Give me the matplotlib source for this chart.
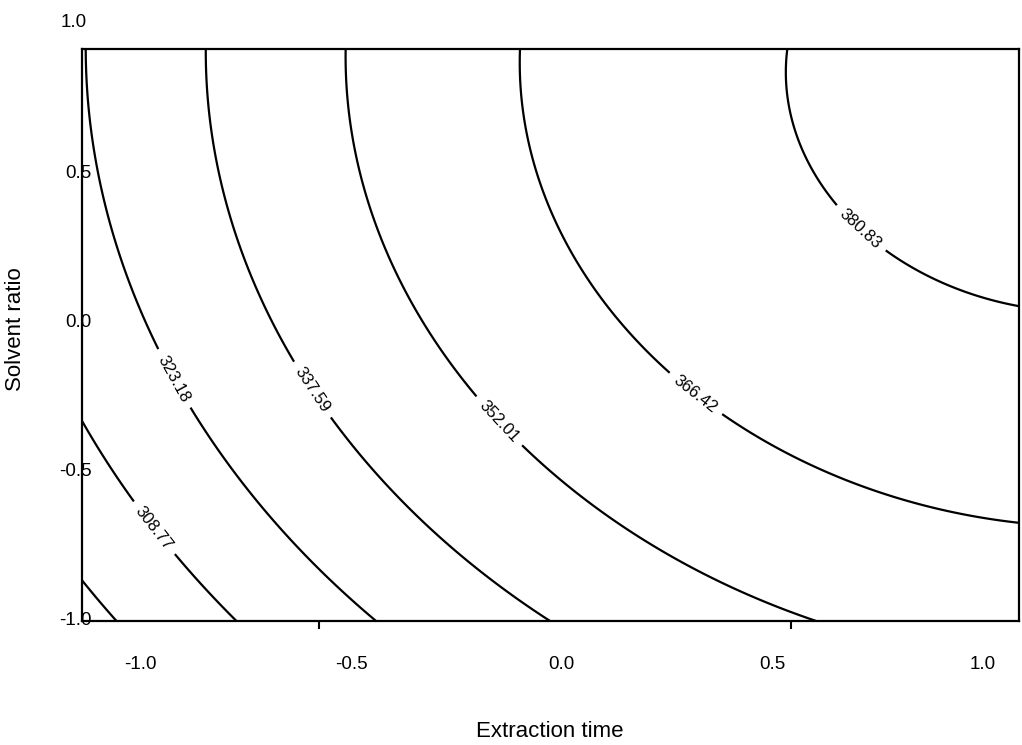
import matplotlib.pyplot as plt
import numpy as np

plt.rcParams['font.family'] = ['Liberation Sans', 'DejaVu Sans']

# Response surface (coded units): b0, bx, by, bxx, byy, bxy
coef = [362.760, 28.567, 15.226, -11.543, -8.861, -0.902]

unlabelled = [294.36]
labelled = [308.77, 323.18, 337.59, 352.01, 366.42, 380.83]

x_ticks = [-1.0, -0.5, 0.0, 0.5, 1.0]
y_ticks = [-1.0, -0.5, 0.0, 0.5]

xlim = (-1.139, 1.086)
ylim = (-1.008, 0.91)

fig = plt.figure(figsize=(10.22, 7.45), dpi=100)
ax = fig.add_axes([0.0802, 0.1664, 0.9169, 0.7678])

gx = np.linspace(xlim[0], xlim[1], 400)
gy = np.linspace(ylim[0], ylim[1], 400)
X, Y = np.meshgrid(gx, gy)
Z = (coef[0] + coef[1] * X + coef[2] * Y
     + coef[3] * X ** 2 + coef[4] * Y ** 2 + coef[5] * X * Y)

ax.contour(X, Y, Z, levels=unlabelled, colors='k', linewidths=1.6)
cs = ax.contour(X, Y, Z, levels=labelled, colors='k', linewidths=1.6)

# where the labels sit along each line
label_pos = [(-0.965, -0.693), (-0.918, -0.193), (-0.593, -0.233),
             (-0.146, -0.334), (0.316, -0.250), (0.713, 0.313)]
ax.clabel(cs, inline=True, fmt='%.2f', fontsize=12,
          manual=label_pos, inline_spacing=8)

ax.set_xlim(xlim)
ax.set_ylim(ylim)

ax.set_xticks(x_ticks)
ax.set_xticklabels(['%.1f' % v for v in x_ticks])
ax.set_yticks(y_ticks)
ax.set_yticklabels(['%.1f' % v for v in y_ticks])
ax.tick_params(axis='x', length=0, pad=25, labelsize=13.5)
ax.tick_params(axis='y', length=0, pad=-7, labelsize=13.5)
ax.set_xticks([-0.576, 0.545], minor=True)
ax.tick_params(axis='x', which='minor', length=6, width=1.5, direction='out')

# the top tick label lies above the frame
ax.text(0.005, 1.0, '1.0', transform=ax.get_yaxis_transform(), ha='right',
        va='center', fontsize=13.5, clip_on=False)

for sp in ax.spines.values():
    sp.set_linewidth(1.6)

ax.set_xlabel('Extraction time', fontsize=16, va='baseline')
ax.xaxis.set_label_coords(0.499, -0.203)
ax.set_ylabel('Solvent ratio', fontsize=16)
ax.yaxis.set_label_coords(-0.06, 0.51)

fig.savefig('out.png')
